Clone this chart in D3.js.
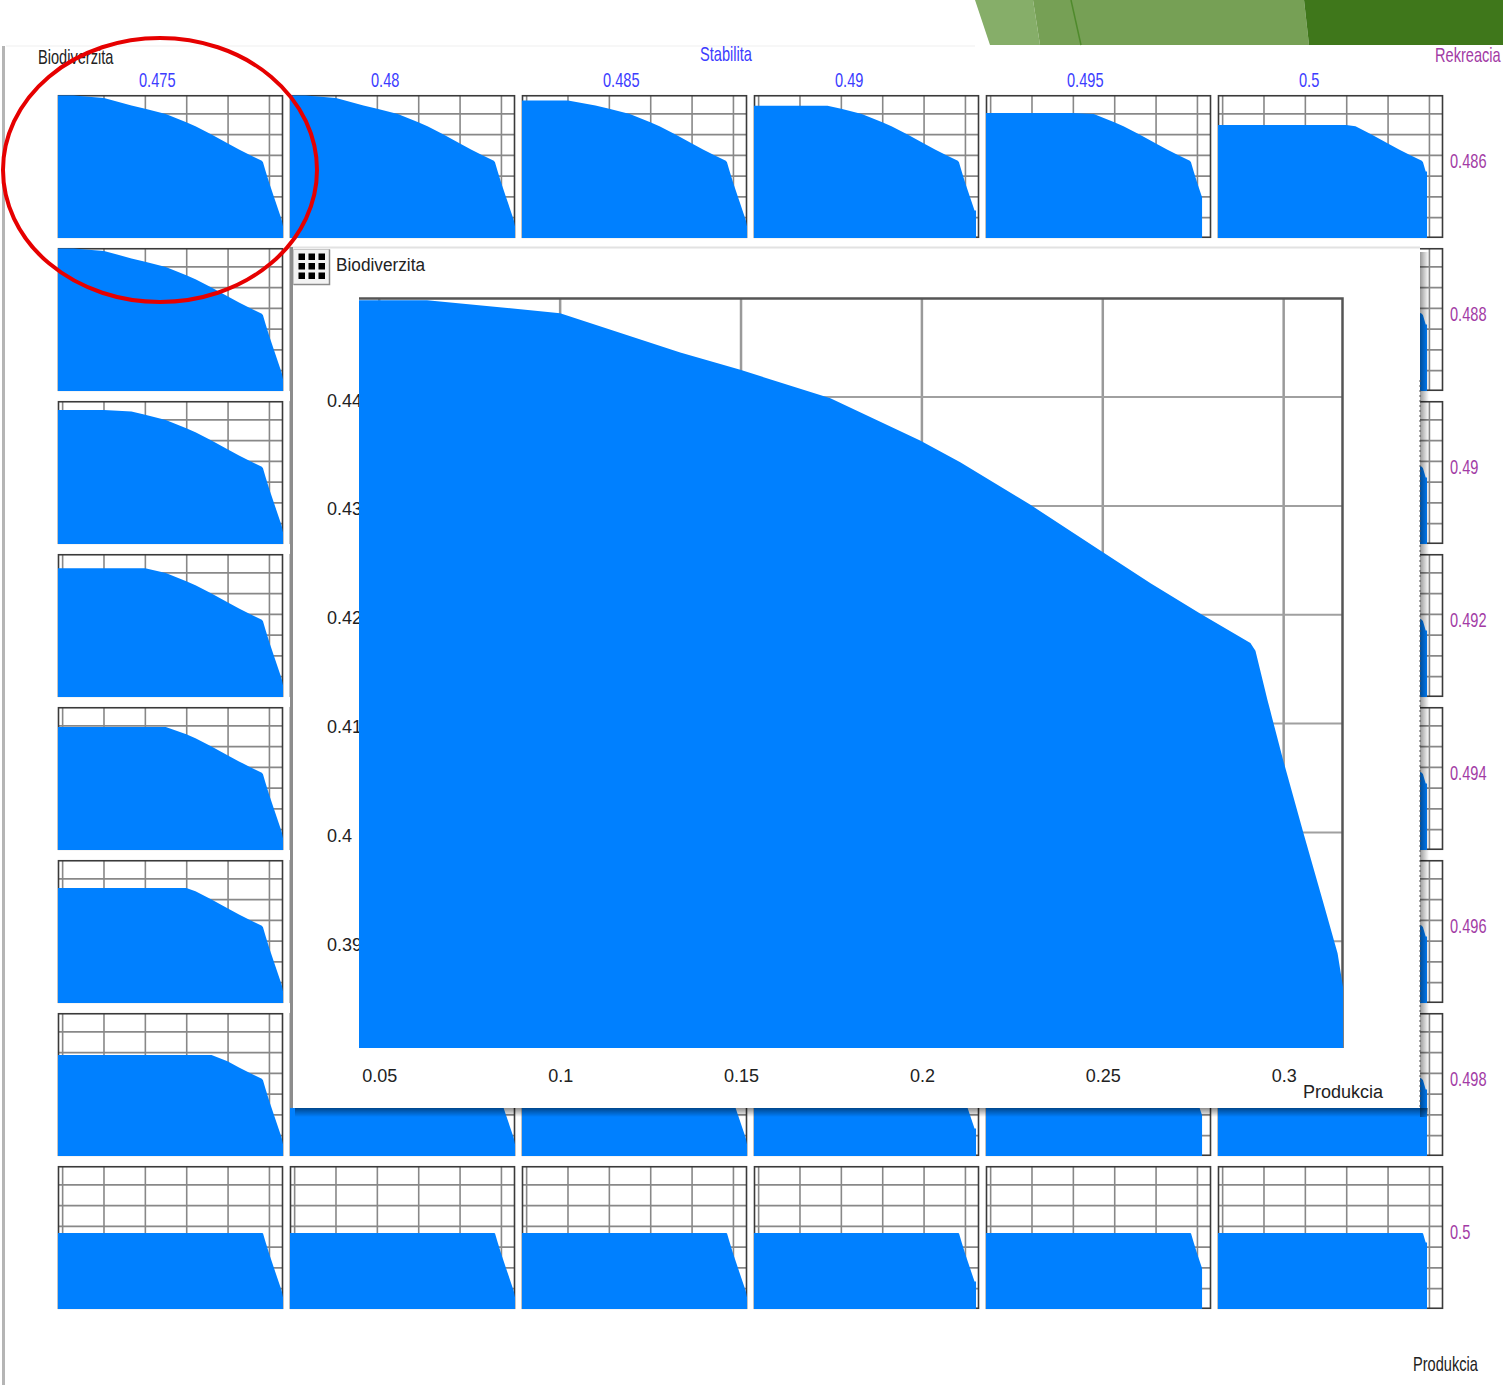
<!DOCTYPE html>
<html><head><meta charset="utf-8">
<script src="https://cdn.jsdelivr.net/npm/d3@7"></script>
<style>body{margin:0;background:#fff}svg{display:block}</style>
</head><body>
<svg id="c" width="1503" height="1385"></svg>
<script>
// ---------- data ----------
const stabilita = [0.475, 0.48, 0.485, 0.49, 0.495, 0.5];            // columns
const rekreacia = [0.486, 0.488, 0.49, 0.492, 0.494, 0.496, 0.498, 0.5]; // rows
// trade-off frontier (Produkcia -> Biodiverzita)
const produkcia    = [0.0444, 0.0632, 0.1000, 0.1332, 0.1498, 0.1747, 0.1995, 0.2106, 0.2300, 0.2493, 0.2632, 0.2770, 0.2908, 0.2922, 0.2955, 0.2999, 0.3055, 0.3110, 0.3149, 0.3164];
const biodiverzita = [0.4489, 0.4489, 0.4477, 0.4441, 0.4425, 0.4399, 0.4360, 0.4340, 0.4301, 0.4259, 0.4229, 0.4201, 0.4174, 0.4167, 0.4122, 0.4066, 0.3999, 0.3935, 0.3889, 0.3858];
// highest reachable Biodiverzita in each small panel (row = Rekreacia, col = Stabilita)
const biodiverzitaMax = [
  [0.4489, 0.4489, 0.4464, 0.4439, 0.4404, 0.4346],
  [0.4489, 0.4486, 0.4462, 0.4436, 0.4401, 0.4343],
  [0.4448, 0.4446, 0.4440, 0.4425, 0.4396, 0.4339],
  [0.4422, 0.4420, 0.4417, 0.4410, 0.4388, 0.4334],
  [0.4395, 0.4393, 0.4391, 0.4386, 0.4372, 0.4324],
  [0.4356, 0.4355, 0.4353, 0.4349, 0.4341, 0.4310],
  [0.4289, 0.4288, 0.4287, 0.4285, 0.4280, 0.4270],
  [0.4168, 0.4168, 0.4168, 0.4168, 0.4168, 0.4168]
];
// highest reachable Produkcia per Stabilita column
const produkciaMax = [0.3164, 0.3164, 0.3164, 0.3128, 0.3056, 0.2971];
const xTicks = [0.05, 0.1, 0.15, 0.2, 0.25, 0.3];
const yTicks = [0.39, 0.4, 0.41, 0.42, 0.43, 0.44];
const xDomain = [0.0444, 0.3164];
const yDomain = [0.3802, 0.4491];

// ---------- drawing ----------
const BLUE = "#0080ff";
const svg = d3.select("#c");
svg.append("rect").attr("width", 1503).attr("height", 1385).attr("fill", "#fff");

const defs = svg.append("defs");
const gB = defs.append("linearGradient").attr("id", "shB").attr("x1", 0).attr("y1", 0).attr("x2", 0).attr("y2", 1);
gB.append("stop").attr("offset", 0).attr("stop-color", "#000").attr("stop-opacity", 0.45);
gB.append("stop").attr("offset", 1).attr("stop-color", "#000").attr("stop-opacity", 0);
const gR = defs.append("linearGradient").attr("id", "shR").attr("x1", 0).attr("y1", 0).attr("x2", 1).attr("y2", 0);
gR.append("stop").attr("offset", 0).attr("stop-color", "#000").attr("stop-opacity", 0.4);
gR.append("stop").attr("offset", 1).attr("stop-color", "#000").attr("stop-opacity", 0);

// header decoration
const hdr = svg.append("g");
const polys = [
  {p: [[975, 0], [1033, 0], [1040, 45], [990, 45]], c: "#86ae69"},
  {p: [[1033, 0], [1304, 0], [1309, 45], [1040, 45]], c: "#76a055"},
  {p: [[1304, 0], [1503, 0], [1503, 45], [1309, 45]], c: "#3f771b"}
];
polys.forEach(d => hdr.append("polygon").attr("points", d.p.map(q => q.join(",")).join(" ")).attr("fill", d.c));
hdr.append("line").attr("x1", 1071).attr("y1", 0).attr("x2", 1081).attr("y2", 45).attr("stroke", "#4f8a2c").attr("stroke-width", 1.5);
svg.append("line").attr("x1", 6).attr("x2", 975).attr("y1", 46).attr("y2", 46).attr("stroke", "#efefef").attr("stroke-width", 1);
svg.append("rect").attr("x", 2).attr("y", 46).attr("width", 3).attr("height", 1339).attr("fill", "#b5b5b5");

// narrow label helper
function narrow(txt, x, y, color, anchor) {
  svg.append("text").text(txt)
    .attr("transform", `translate(${x},${y}) scale(0.73,1)`)
    .attr("text-anchor", anchor || "start")
    .attr("font-family", "Liberation Sans, Arial, sans-serif")
    .attr("font-size", 20).attr("fill", color);
}
narrow("Biodiverzita", 38, 64, "#222");
narrow("Stabilita", 726, 61, "#3c3cff", "middle");
narrow("Rekreacia", 1435, 62, "#a23ba5");
narrow("Produkcia", 1413, 1371, "#222");

const colBand = d3.scaleBand().domain(stabilita).range([58, 1443]).paddingInner(7 / 232);
const rowBand = d3.scaleBand().domain(rekreacia).range([95, 1309]).paddingInner(10 / 153);
const fmt = d3.format("~g");

stabilita.forEach(s => narrow(fmt(s), colBand(s) + 81, 87, "#3c3cff"));
rekreacia.forEach(r => narrow(fmt(r), 1450, rowBand(r) + 73, "#a23ba5"));

function series(cap, xmax) {
  const pts = [];
  for (let k = 0; k < produkcia.length; k++) {
    if (produkcia[k] > xmax + 1e-9) break;
    pts.push([produkcia[k], Math.min(biodiverzita[k], cap)]);
  }
  const last = pts[pts.length - 1];
  if (last[0] < xmax) pts.push([xmax, last[1]]);
  return pts;
}

const pw = colBand.bandwidth(), ph = rowBand.bandwidth();
const xs = d3.scaleLinear().domain(xDomain).range([0, pw]);
const ys = d3.scaleLinear().domain(yDomain).range([ph, 0]);
const areaS = d3.area().x(d => xs(d[0])).y0(ph).y1(d => ys(d[1]));

rekreacia.forEach((r, i) => {
  stabilita.forEach((s, j) => {
    const g = svg.append("g").attr("transform", `translate(${colBand(s)},${rowBand(r)})`);
    g.append("rect").attr("width", pw).attr("height", ph).attr("fill", "#fff");
    g.selectAll(".vx").data(xTicks).join("line")
      .attr("x1", d => xs(d)).attr("x2", d => xs(d)).attr("y1", 0).attr("y2", ph)
      .attr("stroke", "#888").attr("stroke-width", 1.6);
    g.selectAll(".hy").data(yTicks).join("line")
      .attr("y1", d => ys(d)).attr("y2", d => ys(d)).attr("x1", 0).attr("x2", pw)
      .attr("stroke", "#888").attr("stroke-width", 1.6);
    g.append("rect").attr("x", 0.5).attr("y", 0.75).attr("width", pw - 1).attr("height", ph - 1.5)
      .attr("fill", "none").attr("stroke", "#3a3a3a").attr("stroke-width", 1.6);
    g.append("path").attr("d", areaS(series(biodiverzitaMax[i][j], produkciaMax[j]))).attr("fill", BLUE);
  });
});

// ---------- enlarged panel ----------
const ix0 = 291, iy0 = 247, ix1 = 1420, iy1 = 1108;
svg.append("rect").attr("x", ix0 + 4).attr("y", iy1).attr("width", ix1 - ix0 + 4).attr("height", 9).attr("fill", "url(#shB)");
svg.append("rect").attr("x", ix1).attr("y", iy0 + 5).attr("width", 9).attr("height", iy1 - iy0 + 4).attr("fill", "url(#shR)");
svg.append("rect").attr("x", ix0).attr("y", iy0).attr("width", ix1 - ix0).attr("height", iy1 - iy0).attr("fill", "#fff");
svg.append("line").attr("x1", ix0).attr("x2", ix1).attr("y1", iy0 + 0.5).attr("y2", iy0 + 0.5).attr("stroke", "#e2e2e2").attr("stroke-width", 2);
svg.append("line").attr("x1", ix0 + 0.5).attr("x2", ix0 + 0.5).attr("y1", iy0).attr("y2", iy1).attr("stroke", "#8c8c8c").attr("stroke-width", 3);
svg.append("line").attr("x1", ix1).attr("x2", ix1).attr("y1", 380).attr("y2", iy1).attr("stroke", "#555").attr("stroke-width", 1).attr("stroke-dasharray", "2,3");

// grid button icon
const btn = svg.append("g");
btn.append("rect").attr("x", 293.5).attr("y", 249.5).attr("width", 36).attr("height", 35).attr("fill", "#f3f3f3").attr("stroke", "#c8c8c8");
btn.append("path").attr("d", "M329.5,249.5V284.5H293.5").attr("fill", "none").attr("stroke", "#8a8a8a").attr("stroke-width", 1.5);
[298.5, 308.5, 318.5].forEach(x => [253.5, 263, 272.5].forEach(y =>
  btn.append("rect").attr("x", x).attr("y", y).attr("width", 6.5).attr("height", 6.5).attr("fill", "#000")));

svg.append("text").text("Biodiverzita").attr("x", 336).attr("y", 271)
  .attr("font-family", "Liberation Sans, Arial, sans-serif").attr("font-size", 18).attr("fill", "#222")
  .attr("textLength", 89).attr("lengthAdjust", "spacingAndGlyphs");

const X = d3.scaleLinear().domain(xDomain).range([359, 1343]);
const Y = d3.scaleLinear().domain(yDomain).range([1048, 298]);

const yAx = svg.append("g").attr("transform", "translate(327,0)")
  .call(d3.axisLeft(Y).tickValues(yTicks).tickSize(0).tickFormat(fmt));
yAx.select(".domain").remove();
yAx.selectAll("text").attr("x", 0).attr("dy", "0.5em").attr("text-anchor", "start");
yAx.attr("font-family", "Liberation Sans, Arial, sans-serif").attr("font-size", 18).selectAll("text").attr("fill", "#222");

const xAx = svg.append("g").attr("transform", "translate(0,1082)")
  .call(d3.axisBottom(X).tickValues(xTicks).tickSize(0).tickFormat(fmt));
xAx.select(".domain").remove();
xAx.selectAll("text").attr("y", 0).attr("dy", 0);
xAx.attr("font-family", "Liberation Sans, Arial, sans-serif").attr("font-size", 18).selectAll("text").attr("fill", "#222");

const ig = svg.append("g");
ig.selectAll(".v").data(xTicks).join("line")
  .attr("x1", d => X(d)).attr("x2", d => X(d)).attr("y1", 298).attr("y2", 1048)
  .attr("stroke", "#9a9a9a").attr("stroke-width", 2.5);
ig.selectAll(".h").data(yTicks).join("line")
  .attr("y1", d => Y(d)).attr("y2", d => Y(d)).attr("x1", 359).attr("x2", 1343)
  .attr("stroke", "#a0a0a0").attr("stroke-width", 2);
ig.append("path").attr("d", "M359,298.5H1342.5V1048").attr("fill", "none").attr("stroke", "#555").attr("stroke-width", 2.5);
const areaI = d3.area().x(d => X(d[0])).y0(1048).y1(d => Y(d[1]));
ig.append("path").attr("d", areaI(series(biodiverzitaMax[0][0], produkciaMax[0]))).attr("fill", BLUE);

svg.append("text").text("Produkcia").attr("x", 1343).attr("y", 1098).attr("text-anchor", "middle")
  .attr("font-family", "Liberation Sans, Arial, sans-serif").attr("font-size", 18).attr("fill", "#222");

// red highlight ellipse
svg.append("ellipse").attr("cx", 160).attr("cy", 170).attr("rx", 157).attr("ry", 132)
  .attr("fill", "none").attr("stroke", "#e60000").attr("stroke-width", 4);
</script>
</body></html>
